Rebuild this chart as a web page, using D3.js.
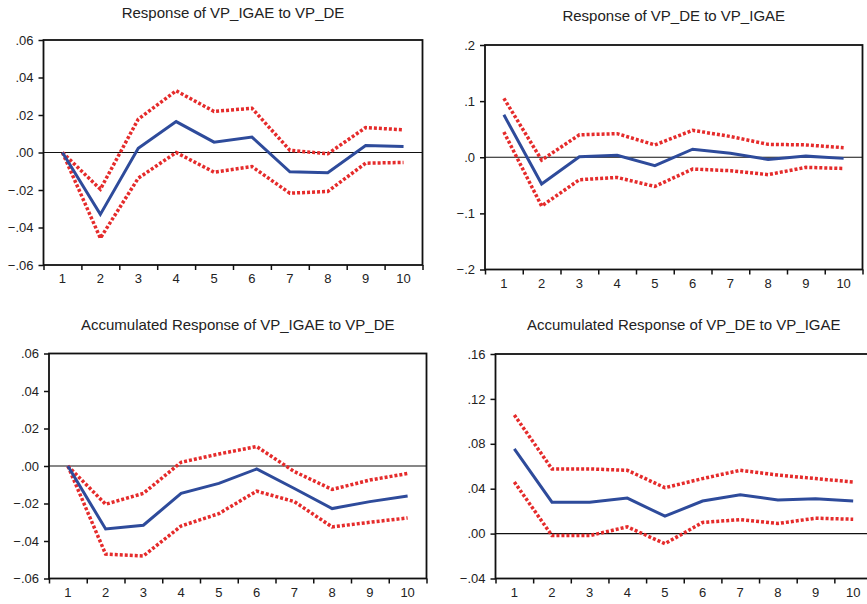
<!DOCTYPE html>
<html>
<head>
<meta charset="utf-8">
<script src="https://cdn.jsdelivr.net/npm/d3@7"></script>
<style>
  body { margin: 0; background: #fff; }
  text { font-family: "Liberation Sans", Arial, sans-serif; fill: #222; }
</style>
</head>
<body>
<script>
'use-strict';

// page size
let width = 867,
  height = 604

// horizon periods
let periods = [1, 2, 3, 4, 5, 6, 7, 8, 9, 10];

// Response of VP_IGAE to VP_DE
let resp1 = [0.000, -0.0330, 0.0023, 0.0165, 0.0055, 0.0082, -0.0103, -0.0108, 0.0037, 0.0032];
let upper1 = [0.000, -0.0196, 0.0178, 0.0329, 0.0219, 0.0236, 0.0012, -0.0007, 0.0133, 0.0121];
let lower1 = [0.000, -0.0457, -0.0137, 0.0000, -0.0105, -0.0075, -0.0217, -0.0208, -0.0057, -0.0053];

// Response of VP_DE to VP_IGAE
let resp2 = [0.0756, -0.0476, 0.001, 0.0036, -0.0149, 0.0143, 0.007, -0.004, 0.002, -0.002];
let upper2 = [0.105, -0.005, 0.040, 0.042, 0.022, 0.048, 0.037, 0.023, 0.022, 0.017];
let lower2 = [0.045, -0.087, -0.040, -0.036, -0.052, -0.021, -0.024, -0.031, -0.018, -0.020];

// Accumulated Response of VP_IGAE to VP_DE
let resp3 = [0.000, -0.0336, -0.0316, -0.0146, -0.0093, -0.0016, -0.012, -0.0227, -0.019, -0.016];
let upper3 = [0.000, -0.0204, -0.0146, 0.002, 0.0064, 0.0104, -0.003, -0.0125, -0.0075, -0.004];
let lower3 = [0.000, -0.047, -0.048, -0.032, -0.0254, -0.0134, -0.019, -0.0325, -0.030, -0.0277];

// Accumulated Response of VP_DE to VP_IGAE
let resp4 = [0.0755, 0.028, 0.028, 0.0316, 0.0155, 0.029, 0.0346, 0.0299, 0.031, 0.029];
let upper4 = [0.1057, 0.0576, 0.0576, 0.0564, 0.0409, 0.049, 0.0564, 0.0522, 0.049, 0.046];
let lower4 = [0.046, -0.0018, -0.0018, 0.006, -0.009, 0.0099, 0.0125, 0.009, 0.0137, 0.0128];

// y tick labels
let ticks1 = [-0.06, -0.04, -0.02, 0, 0.02, 0.04, 0.06];
let ticks2 = [-0.2, -0.1, 0, 0.1, 0.2];
let ticks4 = [-0.04, 0, 0.04, 0.08, 0.12, 0.16];

let titles = [
  "Response of VP_IGAE to VP_DE",
  "Response of VP_DE to VP_IGAE",
  "Accumulated Response of VP_IGAE to VP_DE",
  "Accumulated Response of VP_DE to VP_IGAE"
];

window.onload = function () {
  let svg = d3.select("body")
    .append("svg")
    .attr("width", width)
    .attr("height", height);

  drawPanel(svg, { left: 43.5, right: 422.5, top: 40, bottom: 265, titleY: 17.5 },
    titles[0], ticks1, 2, resp1, upper1, lower1);
  drawPanel(svg, { left: 485, right: 862.5, top: 45, bottom: 269.5, titleY: 21 },
    titles[1], ticks2, 1, resp2, upper2, lower2);
  drawPanel(svg, { left: 49, right: 426.5, top: 353.5, bottom: 578.5, titleY: 330 },
    titles[2], ticks1, 2, resp3, upper3, lower3);
  drawPanel(svg, { left: 495.5, right: 872, top: 354, bottom: 578.5, titleY: 330 },
    titles[3], ticks4, 2, resp4, upper4, lower4);
}

// eviews style tick label: .06, -.04, .0
function fmt(decimals) {
  let f = d3.format("." + decimals + "f");
  return d => f(d).replace("0.", ".");
}

function drawPanel(svg, box, title, yTicks, decimals, resp, upper, lower) {
  let x = d3.scaleLinear()
    .domain([0.5, periods.length + 0.5])
    .range([box.left, box.right]);

  let y = d3.scaleLinear()
    .domain(d3.extent(yTicks))
    .range([box.bottom, box.top]);

  let g = svg.append("g");

  // title
  g.append("text")
    .attr("x", (box.left + box.right) / 2)
    .attr("y", box.titleY)
    .attr("text-anchor", "middle")
    .style("font-size", "15px")
    .text(title);

  // frame
  g.append("rect")
    .attr("x", box.left)
    .attr("y", box.top)
    .attr("width", box.right - box.left)
    .attr("height", box.bottom - box.top)
    .attr("fill", "none")
    .attr("stroke", "#111")
    .attr("stroke-width", 1.8);

  // zero line
  g.append("line")
    .attr("x1", box.left)
    .attr("x2", box.right)
    .attr("y1", y(0))
    .attr("y2", y(0))
    .attr("stroke", "#111")
    .attr("stroke-width", 1.2);

  // y axis
  let yAxis = g.append("g")
    .attr("transform", "translate(" + box.left + ",0)")
    .call(d3.axisLeft(y)
      .tickValues(yTicks)
      .tickSize(5)
      .tickPadding(5)
      .tickFormat(fmt(decimals)));
  yAxis.select(".domain").remove();
  yAxis.selectAll("line").attr("stroke", "#111").attr("stroke-width", 1.5);
  yAxis.selectAll("text").style("font-size", "13px").attr("fill", "#222");

  // x axis: ticks on period boundaries, labels at band centres
  let bounds = d3.range(0, periods.length + 1).map(i => i + 0.5);
  let xAxis = g.append("g")
    .attr("transform", "translate(0," + box.bottom + ")")
    .call(d3.axisBottom(x)
      .tickValues(bounds)
      .tickSize(5)
      .tickFormat(""));
  xAxis.select(".domain").remove();
  xAxis.selectAll("line").attr("stroke", "#111").attr("stroke-width", 1.5);

  g.selectAll(".period")
    .data(periods)
    .join("text")
    .attr("class", "period")
    .attr("x", d => x(d))
    .attr("y", box.bottom + 18)
    .attr("text-anchor", "middle")
    .style("font-size", "13px")
    .text(d => d);

  let line = d3.line()
    .x((d, i) => x(periods[i]))
    .y(d => y(d));

  // confidence bands
  [upper, lower].forEach(band => {
    g.append("path")
      .attr("d", line(band))
      .attr("fill", "none")
      .attr("stroke", "#e52b2b")
      .attr("stroke-width", 3.5)
      .attr("stroke-dasharray", "3,2");
  });

  // impulse response
  g.append("path")
    .attr("d", line(resp))
    .attr("fill", "none")
    .attr("stroke", "#2e4b9b")
    .attr("stroke-width", 3);
}
</script>
</body>
</html>
